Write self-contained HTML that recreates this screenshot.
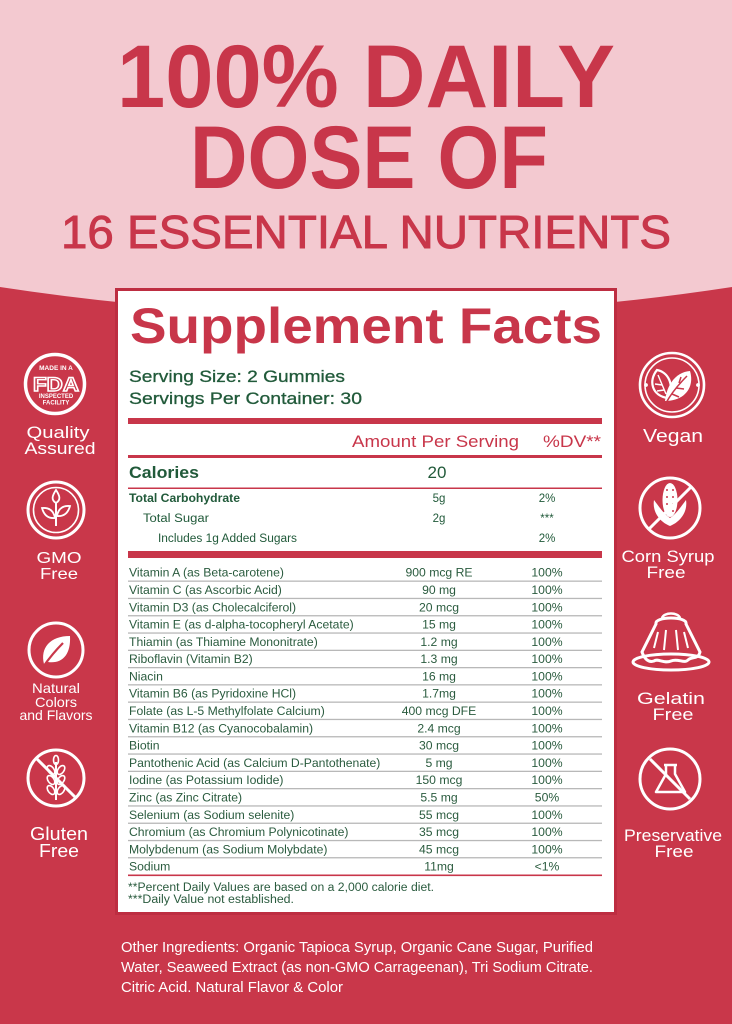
<!DOCTYPE html>
<html>
<head>
<meta charset="utf-8">
<style>
html,body{margin:0;padding:0;background:#c9374a;}
svg{display:block;}
text{font-family:"Liberation Sans",Arial,sans-serif;}
</style>
</head>
<body>
<svg width="732" height="1024" viewBox="0 0 732 1024" xmlns="http://www.w3.org/2000/svg">
  <rect x="0" y="0" width="732" height="1024" fill="#c9374a"/>
  <path d="M0,0 H732 V287 Q366,343 0,287 Z" fill="#f3c9d0"/>

  <!-- Headline -->
  <text x="366" y="107" text-anchor="middle" font-size="89" font-weight="bold" fill="#c8364a" textLength="498" lengthAdjust="spacingAndGlyphs">100% DAILY</text>
  <text x="369" y="188" text-anchor="middle" font-size="89" font-weight="bold" fill="#c8364a" textLength="358" lengthAdjust="spacingAndGlyphs">DOSE OF</text>
  <text x="366" y="248" text-anchor="middle" font-size="46" fill="#c8364a" stroke="#c8364a" stroke-width="0.9" textLength="610" lengthAdjust="spacingAndGlyphs">16 ESSENTIAL NUTRIENTS</text>

  <!-- Supplement facts box -->
  <rect x="116.5" y="289.5" width="499" height="624" fill="#ffffff" stroke="#bd2d41" stroke-width="3"/>
  <text x="130" y="343" font-size="50" font-weight="bold" fill="#c8364a" textLength="472" lengthAdjust="spacingAndGlyphs">Supplement Facts</text>
  <text x="129" y="382" font-size="17" fill="#215a3a" stroke="#215a3a" stroke-width="0.3" textLength="216" lengthAdjust="spacingAndGlyphs">Serving Size: 2 Gummies</text>
  <text x="129" y="404" font-size="17" fill="#215a3a" stroke="#215a3a" stroke-width="0.3" textLength="233" lengthAdjust="spacingAndGlyphs">Servings Per Container: 30</text>

  <rect x="128" y="418" width="474" height="6" fill="#c8364a"/>
  <text x="352" y="447" font-size="17" fill="#c8364a" textLength="167" lengthAdjust="spacingAndGlyphs">Amount Per Serving</text>
  <text x="543" y="447" font-size="17" fill="#c8364a" textLength="58" lengthAdjust="spacingAndGlyphs">%DV**</text>
  <rect x="128" y="455" width="474" height="3" fill="#c8364a"/>

  <text x="129" y="478" font-size="17" font-weight="bold" fill="#215a3a" textLength="70" lengthAdjust="spacingAndGlyphs">Calories</text>
  <text x="437" y="478" font-size="17" fill="#215a3a" text-anchor="middle">20</text>
  <rect x="128" y="487.5" width="474" height="1.5" fill="#c8364a"/>

  <g font-size="11.5" fill="#215a3a">
    <text x="129" y="502" font-weight="bold" textLength="111" lengthAdjust="spacingAndGlyphs">Total Carbohydrate</text>
    <text x="439" y="502" text-anchor="middle">5g</text>
    <text x="547" y="502" text-anchor="middle">2%</text>
    <text x="143" y="522" textLength="66" lengthAdjust="spacingAndGlyphs">Total Sugar</text>
    <text x="439" y="522" text-anchor="middle">2g</text>
    <text x="547" y="522" text-anchor="middle">***</text>
    <text x="158" y="542" textLength="139" lengthAdjust="spacingAndGlyphs">Includes 1g Added Sugars</text>
    <text x="547" y="542" text-anchor="middle">2%</text>
  </g>
  <rect x="128" y="551" width="474" height="7" fill="#c8364a"/>

  <!-- row separators -->
  <g fill="#b8b8b8">
    <rect x="128" y="580.5" width="474" height="1.3"/>
    <rect x="128" y="597.8" width="474" height="1.3"/>
    <rect x="128" y="615.1" width="474" height="1.3"/>
    <rect x="128" y="632.4" width="474" height="1.3"/>
    <rect x="128" y="649.7" width="474" height="1.3"/>
    <rect x="128" y="667.0" width="474" height="1.3"/>
    <rect x="128" y="684.2" width="474" height="1.3"/>
    <rect x="128" y="701.5" width="474" height="1.3"/>
    <rect x="128" y="718.8" width="474" height="1.3"/>
    <rect x="128" y="736.1" width="474" height="1.3"/>
    <rect x="128" y="753.4" width="474" height="1.3"/>
    <rect x="128" y="770.7" width="474" height="1.3"/>
    <rect x="128" y="788.0" width="474" height="1.3"/>
    <rect x="128" y="805.3" width="474" height="1.3"/>
    <rect x="128" y="822.6" width="474" height="1.3"/>
    <rect x="128" y="839.9" width="474" height="1.3"/>
    <rect x="128" y="857.1" width="474" height="1.3"/>
  </g>
  <rect x="128" y="874.5" width="474" height="1.6" fill="#c8364a"/>

  <g font-size="12.2" fill="#2a5b3e">
    <text x="129" y="576.7">Vitamin A (as Beta-carotene)</text>
    <text x="129" y="594.0">Vitamin C (as Ascorbic Acid)</text>
    <text x="129" y="611.3">Vitamin D3 (as Cholecalciferol)</text>
    <text x="129" y="628.6">Vitamin E (as d-alpha-tocopheryl Acetate)</text>
    <text x="129" y="645.9">Thiamin (as Thiamine Mononitrate)</text>
    <text x="129" y="663.2">Riboflavin (Vitamin B2)</text>
    <text x="129" y="680.4">Niacin</text>
    <text x="129" y="697.7">Vitamin B6 (as Pyridoxine HCl)</text>
    <text x="129" y="715.0">Folate (as L-5 Methylfolate Calcium)</text>
    <text x="129" y="732.3">Vitamin B12 (as Cyanocobalamin)</text>
    <text x="129" y="749.6">Biotin</text>
    <text x="129" y="766.9">Pantothenic Acid (as Calcium D-Pantothenate)</text>
    <text x="129" y="784.2">Iodine (as Potassium Iodide)</text>
    <text x="129" y="801.5">Zinc (as Zinc Citrate)</text>
    <text x="129" y="818.8">Selenium (as Sodium selenite)</text>
    <text x="129" y="836.1">Chromium (as Chromium Polynicotinate)</text>
    <text x="129" y="853.3">Molybdenum (as Sodium Molybdate)</text>
    <text x="129" y="870.6">Sodium</text>
  </g>
  <g font-size="12.2" fill="#2a5b3e" text-anchor="middle">
    <text x="439" y="576.7">900 mcg RE</text>
    <text x="439" y="594.0">90 mg</text>
    <text x="439" y="611.3">20 mcg</text>
    <text x="439" y="628.6">15 mg</text>
    <text x="439" y="645.9">1.2 mg</text>
    <text x="439" y="663.2">1.3 mg</text>
    <text x="439" y="680.4">16 mg</text>
    <text x="439" y="697.7">1.7mg</text>
    <text x="439" y="715.0">400 mcg DFE</text>
    <text x="439" y="732.3">2.4 mcg</text>
    <text x="439" y="749.6">30 mcg</text>
    <text x="439" y="766.9">5 mg</text>
    <text x="439" y="784.2">150 mcg</text>
    <text x="439" y="801.5">5.5 mg</text>
    <text x="439" y="818.8">55 mcg</text>
    <text x="439" y="836.1">35 mcg</text>
    <text x="439" y="853.3">45 mcg</text>
    <text x="439" y="870.6">11mg</text>
  </g>
  <g font-size="12.2" fill="#2a5b3e" text-anchor="middle">
    <text x="547" y="576.7">100%</text>
    <text x="547" y="594.0">100%</text>
    <text x="547" y="611.3">100%</text>
    <text x="547" y="628.6">100%</text>
    <text x="547" y="645.9">100%</text>
    <text x="547" y="663.2">100%</text>
    <text x="547" y="680.4">100%</text>
    <text x="547" y="697.7">100%</text>
    <text x="547" y="715.0">100%</text>
    <text x="547" y="732.3">100%</text>
    <text x="547" y="749.6">100%</text>
    <text x="547" y="766.9">100%</text>
    <text x="547" y="784.2">100%</text>
    <text x="547" y="801.5">50%</text>
    <text x="547" y="818.8">100%</text>
    <text x="547" y="836.1">100%</text>
    <text x="547" y="853.3">100%</text>
    <text x="547" y="870.6">&lt;1%</text>
  </g>

  <text x="128" y="891" font-size="11.5" fill="#2a5b3e" textLength="306" lengthAdjust="spacingAndGlyphs">**Percent Daily Values are based on a 2,000 calorie diet.</text>
  <text x="128" y="903" font-size="11.5" fill="#2a5b3e" textLength="166" lengthAdjust="spacingAndGlyphs">***Daily Value not established.</text>

  <!-- Other ingredients -->
  <g font-size="15" fill="#ffffff">
    <text x="121" y="952" textLength="472" lengthAdjust="spacingAndGlyphs">Other Ingredients: Organic Tapioca Syrup, Organic Cane Sugar, Purified</text>
    <text x="121" y="972" textLength="472" lengthAdjust="spacingAndGlyphs">Water, Seaweed Extract (as non-GMO Carrageenan), Tri Sodium Citrate.</text>
    <text x="121" y="992" textLength="222" lengthAdjust="spacingAndGlyphs">Citric Acid. Natural Flavor &amp; Color</text>
  </g>

  <!-- LEFT ICONS -->
  <g stroke="#ffffff" fill="none">
    <!-- FDA -->
    <circle cx="55" cy="384" r="29.5" stroke-width="3.5"/>
    <!-- GMO -->
    <circle cx="56" cy="510" r="28" stroke-width="3"/>
    <circle cx="56" cy="510" r="22.5" stroke-width="1.6"/>
    <path d="M56,526 V503" stroke-width="2"/>
    <path d="M56,490 C52,496 51,500 56,503 C61,500 60,496 56,490 Z" stroke-width="1.8"/>
    <path d="M55,518 Q45,519 42,508 Q53,507 55,518 Z" stroke-width="1.8"/>
    <path d="M57,516 Q67,517 70,506 Q59,505 57,516 Z" stroke-width="1.8"/>
    <!-- Natural leaf -->
    <circle cx="56" cy="650" r="27" stroke-width="3"/>
    <!-- Gluten -->
    <circle cx="56" cy="778" r="28" stroke-width="3"/>
    <path d="M36,758 L76,798" stroke-width="3"/>
    <path d="M56,800 V762" stroke-width="2"/>
    <ellipse cx="51" cy="770" rx="3" ry="5" transform="rotate(-35 51 770)" stroke-width="1.6"/>
    <ellipse cx="61" cy="770" rx="3" ry="5" transform="rotate(35 61 770)" stroke-width="1.6"/>
    <ellipse cx="51" cy="780" rx="3" ry="5" transform="rotate(-35 51 780)" stroke-width="1.6"/>
    <ellipse cx="61" cy="780" rx="3" ry="5" transform="rotate(35 61 780)" stroke-width="1.6"/>
    <ellipse cx="51" cy="790" rx="3" ry="5" transform="rotate(-35 51 790)" stroke-width="1.6"/>
    <ellipse cx="61" cy="790" rx="3" ry="5" transform="rotate(35 61 790)" stroke-width="1.6"/>
    <ellipse cx="56" cy="760" rx="2.5" ry="4.5" stroke-width="1.6"/>
  </g>
  <!-- FDA inner text -->
  <text x="56" y="370" font-size="6.5" font-weight="bold" fill="#ffffff" text-anchor="middle">MADE IN A</text>
  <text x="56" y="391" font-size="19" font-weight="bold" fill="none" stroke="#ffffff" stroke-width="1.4" text-anchor="middle" textLength="46" lengthAdjust="spacingAndGlyphs">FDA</text>
  <text x="56" y="398" font-size="6" font-weight="bold" fill="#ffffff" text-anchor="middle">INSPECTED</text>
  <text x="56" y="404.5" font-size="6" font-weight="bold" fill="#ffffff" text-anchor="middle">FACILITY</text>
  <!-- leaf fill -->
  <path d="M44,664 C40,648 50,636 70,636 C71,655 62,664 48,662 Z" fill="#ffffff"/>
  <path d="M43,667 C50,657 56,650 63,643" stroke="#c9374a" stroke-width="2.2" fill="none"/>

  <g font-size="17" fill="#ffffff" text-anchor="middle">
    <text x="58" y="438" textLength="63" lengthAdjust="spacingAndGlyphs">Quality</text>
    <text x="60" y="454" textLength="71" lengthAdjust="spacingAndGlyphs">Assured</text>
    <text x="59" y="563" font-size="16" textLength="45" lengthAdjust="spacingAndGlyphs">GMO</text>
    <text x="59" y="579" font-size="16" textLength="38" lengthAdjust="spacingAndGlyphs">Free</text>
    <text x="56" y="693" font-size="14" textLength="48" lengthAdjust="spacingAndGlyphs">Natural</text>
    <text x="56" y="707" font-size="14" textLength="42" lengthAdjust="spacingAndGlyphs">Colors</text>
    <text x="56" y="720" font-size="14" textLength="73" lengthAdjust="spacingAndGlyphs">and Flavors</text>
    <text x="59" y="840" font-size="18" textLength="58" lengthAdjust="spacingAndGlyphs">Gluten</text>
    <text x="59" y="857" font-size="18" textLength="40" lengthAdjust="spacingAndGlyphs">Free</text>
  </g>

  <!-- RIGHT ICONS -->
  <g stroke="#ffffff" fill="none">
    <!-- Vegan -->
    <circle cx="672" cy="385" r="32" stroke-width="2.6"/>
    <circle cx="672" cy="385" r="27" stroke-width="1.6"/>
    <path d="M668,398 C652,396 648,381 657,370 C668,372 675,385 668,398 Z" stroke-width="2.2"/>
    <path d="M666,394 L658,375 M662,385 L655,384 M664,390 L657,391" stroke-width="1.4"/>
    <!-- Corn -->
    <circle cx="670" cy="508" r="30" stroke-width="3"/>
    <!-- Gelatin -->
    <ellipse cx="671" cy="662" rx="38" ry="8" stroke-width="3"/>
    <path d="M656,624 C654,616 688,616 686,624 L700,652 C698,660 692,656 688,660 C684,664 678,658 671,661 C664,664 658,658 654,661 C648,663 644,658 642,652 Z" stroke-width="3"/>
    <path d="M662,618 C664,612 678,612 680,618" stroke-width="2.5"/>
    <path d="M658,632 L654,648 M666,630 L664,650 M676,630 L678,650 M684,632 L688,648" stroke-width="2"/>
    <!-- Preservative -->
    <circle cx="670" cy="779" r="30" stroke-width="3"/>
    <path d="M664,765 H677 M666,765 V774 L656,792 H685 L675,774 V765" stroke-width="2.5" stroke-linejoin="round"/>
    <path d="M650,759 L690,799" stroke-width="3"/>
  </g>
  <circle cx="646" cy="385" r="1.9" fill="#ffffff"/>
  <circle cx="698" cy="385" r="1.9" fill="#ffffff"/>
  <path d="M665,401 C667,383 677,372 690,371 C695,388 684,401 665,401 Z" fill="#ffffff"/>
  <path d="M666,403 C672,392 679,384 687,376 M676,388 L684,389 M672,394 L679,397 M679,383 L681,377" stroke="#c9374a" stroke-width="1.5" fill="none"/>
  <!-- Corn cob & husks -->
  <ellipse cx="670" cy="500" rx="7.5" ry="17" fill="#ffffff"/>
  <g fill="#c9374a">
    <circle cx="667" cy="490" r="1"/><circle cx="673" cy="490" r="1"/>
    <circle cx="667" cy="497" r="1"/><circle cx="673" cy="497" r="1"/>
    <circle cx="667" cy="504" r="1"/><circle cx="673" cy="504" r="1"/>
    <circle cx="667" cy="511" r="1"/><circle cx="673" cy="511" r="1"/>
  </g>
  <path d="M670,526 C660,522 652,512 654,500 C660,508 664,514 670,518 Z" fill="#ffffff"/>
  <path d="M670,526 C680,522 688,512 686,500 C680,508 676,514 670,518 Z" fill="#ffffff"/>
  <path d="M691,487 L649,529" stroke="#ffffff" stroke-width="3"/>

  <g font-size="18" fill="#ffffff" text-anchor="middle">
    <text x="673" y="442" textLength="60" lengthAdjust="spacingAndGlyphs">Vegan</text>
    <text x="668" y="562" font-size="17" textLength="93" lengthAdjust="spacingAndGlyphs">Corn Syrup</text>
    <text x="666" y="578" font-size="17" textLength="39" lengthAdjust="spacingAndGlyphs">Free</text>
    <text x="671" y="704" font-size="17" textLength="68" lengthAdjust="spacingAndGlyphs">Gelatin</text>
    <text x="673" y="720" font-size="17" textLength="41" lengthAdjust="spacingAndGlyphs">Free</text>
    <text x="673" y="841" font-size="17" textLength="98" lengthAdjust="spacingAndGlyphs">Preservative</text>
    <text x="674" y="857" font-size="17" textLength="39" lengthAdjust="spacingAndGlyphs">Free</text>
  </g>
</svg>
</body>
</html>
